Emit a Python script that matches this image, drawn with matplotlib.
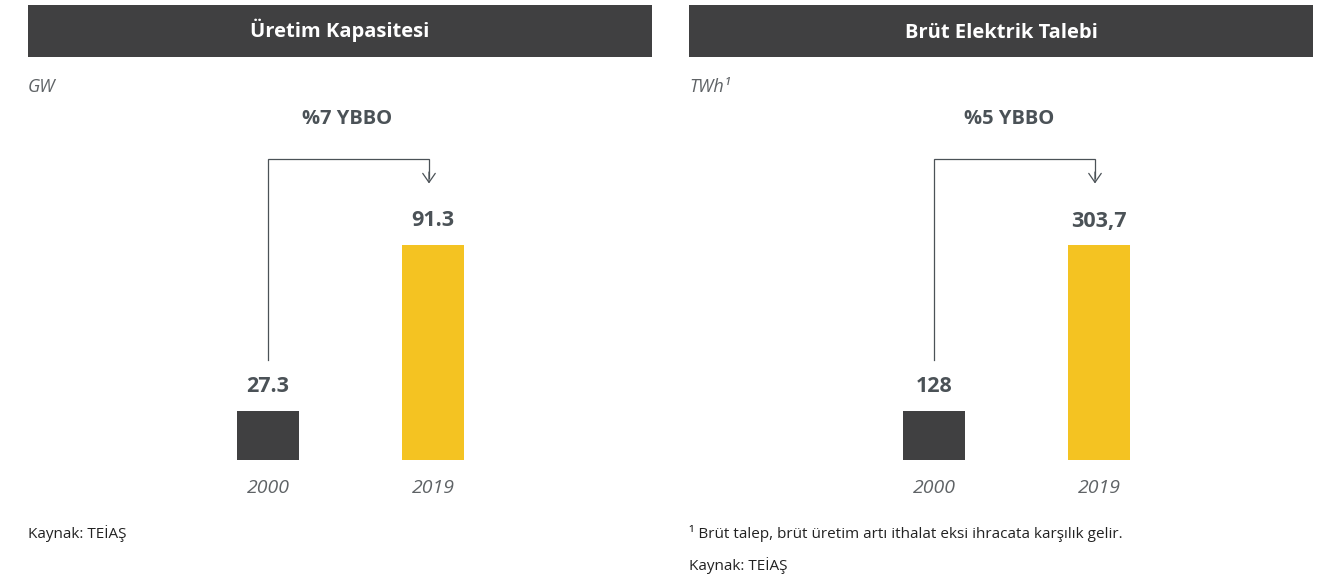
import matplotlib
matplotlib.use("Agg")
import matplotlib.pyplot as plt
from matplotlib.patches import Rectangle
from matplotlib.transforms import blended_transform_factory

plt.rcParams['font.family'] = ['Open Sans', 'DejaVu Sans']

# ---- data ----
years = ["2000", "2019"]
capacity = [27.3, 91.3]
capacity_labels = ["27.3", "91.3"]
demand = [128, 303.7]
demand_labels = ["128", "303,7"]
titles = ["Üretim Kapasitesi", "Brüt Elektrik Talebi"]
units = ["GW", "TWh¹"]
cagr = ["%7 YBBO", "%5 YBBO"]
bar_colors = ["#404041", "#F4C322"]

W, H = 1331, 581
fig = plt.figure(figsize=(W / 100, H / 100), dpi=100)
fig.patch.set_facecolor("white")

DARK = "#404041"
TEXT = "#4b5257"
GRAY = "#5f6366"


def fx(x):
    return x / W


def fy(y):
    return 1 - y / H


def panel(x0, x1, values, labels, title, unit, growth, growth_x, bar_c0):
    # header band
    fig.add_artist(Rectangle((fx(x0), fy(57)), fx(x1 - x0), (57 - 5) / H,
                             transform=fig.transFigure, facecolor=DARK,
                             edgecolor="none"))
    fig.text(fx((x0 + x1) / 2), fy(37.5), title, color="white", fontsize=14.5,
             fontweight="bold", ha="center", va="baseline")
    fig.text(fx(x0), fy(91.5), unit, color=GRAY, fontsize=13, style="italic",
             ha="left", va="baseline")
    fig.text(fx(growth_x), fy(124), growth, color=TEXT, fontsize=14.5,
             fontweight="bold", ha="center", va="baseline")

    # axes: baseline at pixel 460, top at pixel 100
    base_px, top_px, high_px, low_px = 460, 100, 245, 411
    spacing = 165.0
    ax = fig.add_axes([fx(x0), fy(base_px), fx(x1 - x0), (base_px - top_px) / H])
    ax.set_xlim((x0 - bar_c0) / spacing, (x1 - bar_c0) / spacing)
    # bars are not to zero-based scale in the original: choose a visual floor
    r = (base_px - low_px) / (base_px - high_px)
    floor = (values[0] - r * values[1]) / (1 - r)
    per_px = (values[1] - floor) / (base_px - high_px)
    ax.set_ylim(floor, floor + per_px * (base_px - top_px))
    xs = list(range(len(values)))
    bars = ax.bar(xs, values, width=62 / spacing, color=bar_colors, zorder=2)
    ax.axis("off")
    for b, lab in zip(bars, labels):
        ax.annotate(lab, (b.get_x() + b.get_width() / 2, b.get_height()),
                    xytext=(0, 18.5), textcoords="offset pixels", ha="center",
                    va="baseline", fontsize=15.5, fontweight="bold", color=TEXT,
                    annotation_clip=False)
    for x, yr in zip(xs, years):
        fig.text(fx(bar_c0 + x * spacing), fy(493), yr, color=GRAY, fontsize=14,
                 style="italic", ha="center", va="baseline")

    # bracket arrow
    tr = blended_transform_factory(ax.transData, fig.transFigure)
    xl = 0
    xr = 1 - 4 / spacing
    ax.plot([xl, xl, xr, xr], [fy(360), fy(159), fy(159), fy(178)],
            transform=tr, color=TEXT, lw=0.9, clip_on=False,
            solid_joinstyle="miter")
    ax.annotate("", xy=(xr, fy(183.5)), xycoords=tr,
                xytext=(xr, fy(172)), textcoords=tr,
                arrowprops=dict(arrowstyle="->,head_length=0.65,head_width=0.45",
                                mutation_scale=10, color=TEXT, lw=0.9,
                                shrinkA=0, shrinkB=0),
                annotation_clip=False)
    return ax


panel(28, 652, capacity, capacity_labels, titles[0], units[0], cagr[0], 347, 268)
panel(689, 1313, demand, demand_labels, titles[1], units[1], cagr[1], 1009, 934)

fig.text(fx(28), fy(534), "Kaynak: TEİAŞ", color="#222222", fontsize=11,
         ha="left", va="center")
fig.text(fx(689), fy(534), "¹ Brüt talep, brüt üretim artı ithalat eksi ihracata karşılık gelir.",
         color="#222222", fontsize=11, ha="left", va="center")
fig.text(fx(689), fy(566), "Kaynak: TEİAŞ", color="#222222", fontsize=11,
         ha="left", va="center")

fig.savefig("out.png", dpi=100, facecolor="white")
